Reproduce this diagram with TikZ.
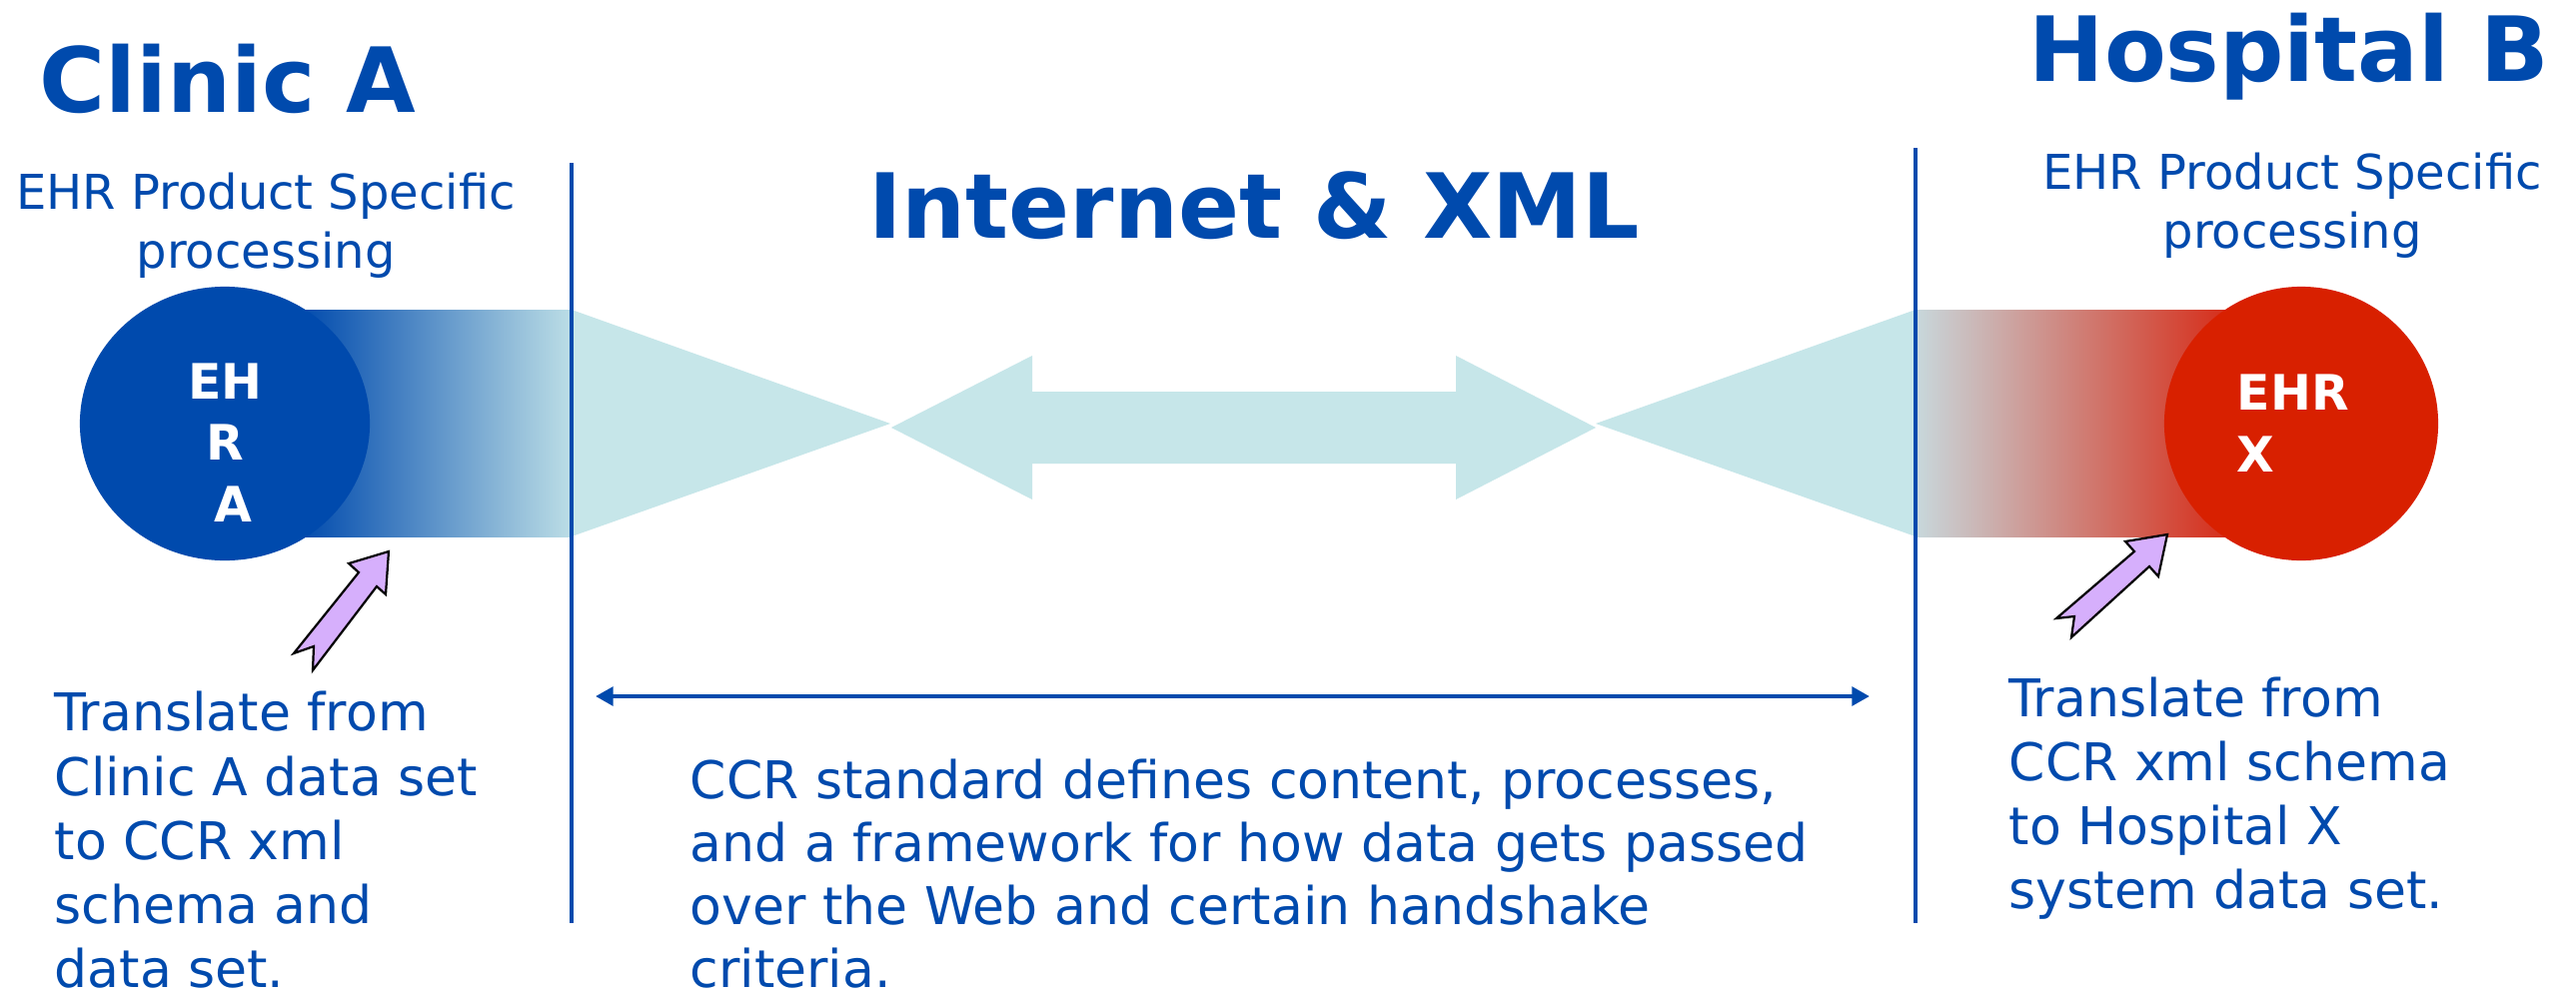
\documentclass[tikz,border=0pt]{standalone}
\usepackage{fontspec}
\setmainfont{DejaVu Sans}
\usetikzlibrary{arrows.meta,shapes.geometric}
\definecolor{ccrblue}{RGB}{0,74,173}
\definecolor{ccrcyan}{RGB}{198,230,233}
\definecolor{ccrcyanB}{RGB}{188,222,230}
\definecolor{ccrgrey}{RGB}{200,216,220}
\definecolor{ccrred}{RGB}{216,32,0}
\definecolor{ccrredB}{RGB}{214,44,24}
\definecolor{ccrpurple}{RGB}{214,175,252}
\begin{document}
\begin{tikzpicture}[x=0.01cm,y=-0.01cm,
  title/.style={text=ccrblue, font=\fontsize{25.6}{30}\selectfont\bfseries, inner sep=0, anchor=base},
  sub/.style={text=ccrblue, font=\fontsize{13.66}{16.5}\selectfont, inner sep=0, align=center, anchor=base},
  body/.style={text=ccrblue, font=\fontsize{14.8}{18.2}\selectfont, inner sep=0, align=left, anchor=base west},
  intext/.style={text=white, font=\fontsize{13.9}{17.4}\selectfont\bfseries, inner sep=0},
  divider/.style={draw=ccrblue, line width=1pt},
  pointer/.style={fill=ccrpurple, draw=black, line width=0.63pt, line join=miter},
  blob/.style={ellipse, inner sep=0, draw=none},
]
\useasboundingbox[fill=white] (0,0) rectangle (2578,1000);

% gradient bars
\shade[left color=ccrblue, right color=ccrcyanB] (300,310) rectangle (572,537);
\shade[left color=ccrgrey, right color=ccrredB] (1917,310) rectangle (2232,537);

% funnels and central double arrow
\fill[ccrcyan] (572,310) -- (572,537) -- (891,424) -- cycle;
\fill[ccrcyan] (1917,310) -- (1917,537) -- (1597,424) -- cycle;
\fill[ccrcyan] (892,428) -- (1033,356) -- (1033,392) -- (1457,392) -- (1457,356)
  -- (1597,428) -- (1457,500) -- (1457,464) -- (1033,464) -- (1033,500) -- cycle;

% EHR blobs
\node[blob, fill=ccrblue, minimum width=2.9cm, minimum height=2.74cm] (ehra) at (225,424) {};
\node[blob, fill=ccrred, minimum width=2.74cm, minimum height=2.74cm] (ehrx) at (2303,424) {};
\node[intext, align=center, anchor=base] (ehraT) at (225.5,522) {EH\\R\\\hspace*{4.6pt}A};
\node[intext, align=left, anchor=base west] (ehrxT) at (2238,472) {EHR\\X};

% divider lines
\coordinate (divAtop) at (572,163);
\coordinate (divAbot) at (572,924);
\coordinate (divBtop) at (1917,148);
\coordinate (divBbot) at (1917,924);
\draw[divider] (divAtop) -- (divAbot);
\draw[divider] (divBtop) -- (divBbot);

% span arrow
\coordinate (spanL) at (596,697);
\coordinate (spanR) at (1871,697);
\draw[ccrblue, line width=1.4pt, {Triangle[length=5pt,width=5.2pt]}-{Triangle[length=5pt,width=5.2pt]}] (spanL) -- (spanR);

% titles
\node[title] (clinic) at (228,113) {Clinic A};
\node[title] (hosp) at (2291,81) {Hospital B};
\node[title] (inet) at (1255,238) {Internet \& XML};

\node[sub] (procA) at (266,268) {EHR Product Specific\\processing};
\node[sub] (procB) at (2294,248) {EHR Product Specific\\processing};

% notes (anchor is the baseline of the last line)
\node[body] (noteA) at (54,988) {Translate from\\Clinic A data set\\to CCR xml\\schema and\\data set.};
\node[body, font=\fontsize{14.8}{17.9}\selectfont] (noteC) at (690,988) {CCR standard defines content, processes,\\and a framework for how data gets passed\\over the Web and certain handshake\\criteria.};
\node[body] (noteB) at (2010,909) {Translate from\\CCR xml schema\\to Hospital X\\system data set.};

% pointer arrows
\filldraw[pointer] (389,552) -- (386,595) -- (377,587) -- (313,671) -- (314,647)
  -- (294,654) -- (359,573) -- (349,564) -- cycle;
\filldraw[pointer] (2169,535) -- (2160,577) -- (2151,567) -- (2073,638) -- (2076,617)
  -- (2058,619) -- (2136,552) -- (2127,542) -- cycle;
\end{tikzpicture}
\end{document}
